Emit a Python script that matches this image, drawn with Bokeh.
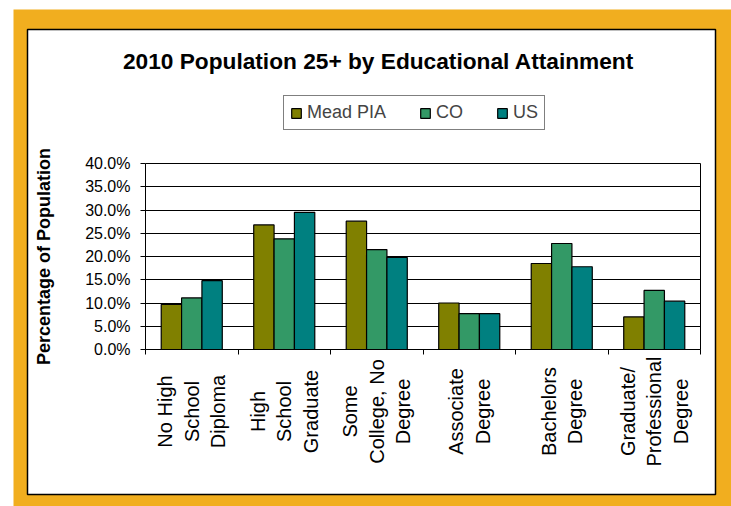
import math
from bokeh.plotting import figure
from bokeh.models import (Range1d, FixedTicker, PrintfTickFormatter, Label,
                          BoxAnnotation, ColumnDataSource, LinearAxis, Grid)
from bokeh.embed import file_html
from bokeh.resources import INLINE

# --- data -------------------------------------------------------------
categories = ["No High\nSchool\nDiploma", "High\nSchool\nGraduate",
              "Some\nCollege, No\nDegree", "Associate\nDegree",
              "Bachelors\nDegree", "Graduate/\nProfessional\nDegree"]
series_names = ["Mead PIA", "CO", "US"]
mead_pia = [9.7, 26.8, 27.6, 10.0, 18.5, 7.0]
co = [11.1, 23.8, 21.5, 7.7, 22.8, 12.7]
us = [14.8, 29.5, 19.8, 7.7, 17.8, 10.4]
y_ticks = [0, 5, 10, 15, 20, 25, 30, 35, 40]
y_max = 40

colors = ["#808000", "#339966", "#008080"]
FONT = "Liberation Sans"

# --- page layout (pixels) ---------------------------------------------
W, H = 731, 506
PL, PR, PT, PB = 145, 700, 163, 349      # plot area inside the canvas

n = len(categories)
px_x = (PR - PL) / n
px_y = (PB - PT) / y_max
x_range = Range1d(-PL / px_x, (W - PL) / px_x)
y_range = Range1d(-(H - PB) / px_y, PB / px_y)

p = figure(width=W, height=H, output_backend="svg", toolbar_location=None,
           x_range=x_range, y_range=y_range, min_border=0)
p.title.visible = False
p.border_fill_color = "white"
p.background_fill_color = "white"
p.outline_line_color = None

# orange frame and white chart panel (screen units from bottom-left)
orange = BoxAnnotation(left=13, right=W, top=H - 9, bottom=0,
                       left_units="screen", right_units="screen",
                       top_units="screen", bottom_units="screen",
                       fill_color="#F1AE1F", fill_alpha=1, line_color=None,
                       level="underlay")
panel = BoxAnnotation(left=27, right=715, top=H - 29, bottom=H - 494,
                      left_units="screen", right_units="screen",
                      top_units="screen", bottom_units="screen",
                      fill_color="white", fill_alpha=1, line_color="black",
                      line_width=1.5, line_alpha=1, level="underlay")

# value axis
ya = p.yaxis[0]
ya.fixed_location = 0
ya.bounds = (0, y_max)
ya.ticker = FixedTicker(ticks=y_ticks)
ya.formatter = PrintfTickFormatter(format="%.1f%%")
ya.major_tick_in = 0
ya.major_tick_out = 5
ya.minor_tick_line_color = None
ya.axis_line_color = "black"
ya.major_tick_line_color = "black"
ya.major_label_text_font = FONT
ya.major_label_text_font_size = "16px"
ya.major_label_text_color = "black"
ya.major_label_standoff = 10
ya.axis_label = "Percentage of Population"
ya.axis_label_text_font = FONT
ya.axis_label_text_font_size = "18px"
ya.axis_label_text_font_style = "bold"
ya.axis_label_text_color = "black"
ya.axis_label_standoff = 28

# category axis: ticks on the category boundaries
xa = p.xaxis[0]
xa.fixed_location = 0
xa.bounds = (0, n)
xa.ticker = FixedTicker(ticks=list(range(n + 1)))
xa.major_label_text_font_size = "0px"
xa.major_label_text_color = None
xa.major_tick_in = 0
xa.major_tick_out = 5
xa.minor_tick_line_color = None
xa.axis_line_color = "black"
xa.major_tick_line_color = "black"

# right edge of the plot area
ra = LinearAxis(fixed_location=n, bounds=(0, y_max),
                ticker=FixedTicker(ticks=[0, y_max]),
                major_tick_in=0, major_tick_out=0,
                major_label_text_color=None, major_label_text_font_size="0px",
                minor_tick_line_color=None, axis_line_color="black")
p.add_layout(ra, "right")

# horizontal grid
p.xgrid.grid_line_color = None
use_grid = "cross_bounds" in Grid.properties()
if use_grid:
    p.ygrid.ticker = FixedTicker(ticks=y_ticks)
    p.ygrid.grid_line_color = "black"
    p.ygrid.grid_line_width = 1
    p.ygrid.cross_bounds = (0, n)
    p.ygrid.bounds = (0, y_max)
else:
    p.ygrid.grid_line_color = None
    p.segment(x0=[0] * len(y_ticks), x1=[n] * len(y_ticks), y0=y_ticks,
              y1=y_ticks, line_color="black", line_width=1)

p.center = [orange, panel] + list(p.center)

# grouped bars
bar_w = 0.22
offsets = [-bar_w, 0.0, bar_w]
for vals, name, col, off in zip([mead_pia, co, us], series_names, colors, offsets):
    src = ColumnDataSource(dict(x=[i + 0.5 + off for i in range(n)], top=vals))
    p.vbar(x="x", top="top", width=bar_w, bottom=0, source=src,
           fill_color=col, line_color="black", line_width=1.2,
           legend_label=name)

# category labels under each group: one rotated, centred label per line
line_gap = 26.5
for i, lab in enumerate(categories):
    lines = lab.split("\n")
    k = len(lines)
    for j, line in enumerate(lines):
        p.add_layout(Label(x=i + 0.5, y=H - 411, x_units="data", y_units="screen",
                           x_offset=(j - (k - 1) / 2) * line_gap,
                           text=line, angle=math.pi / 2, text_align="center",
                           text_baseline="middle", text_font=FONT,
                           text_font_size="20px", text_color="black"))

# chart title
p.add_layout(Label(x=378, y=H - 60, x_units="screen", y_units="screen",
                   text="2010 Population 25+ by Educational Attainment",
                   text_align="center", text_baseline="middle",
                   text_font=FONT, text_font_size="22.7px",
                   text_font_style="bold", text_color="black"))

# legend
lg = p.legend[0]
lg.orientation = "horizontal"
lg.location = (283, H - 130)
lg.glyph_width = 12
lg.glyph_height = 12
lg.label_text_font = FONT
lg.label_text_font_size = "18px"
lg.label_standoff = 5
lg.spacing = 33
lg.padding = 6
lg.margin = 0
lg.border_line_color = "black"
lg.border_line_width = 1
lg.background_fill_color = "white"
lg.background_fill_alpha = 1

open("out.html", "w").write(file_html(p, INLINE))
